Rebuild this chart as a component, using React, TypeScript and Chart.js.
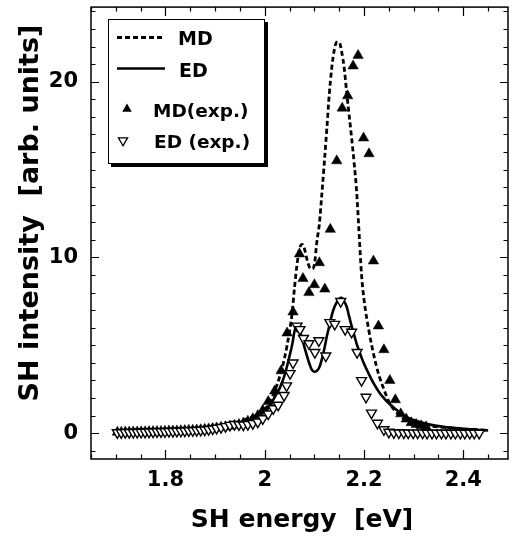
import React, { useEffect, useRef } from 'react';
import { Chart, registerables } from 'chart.js';

Chart.register(...registerables);

// ---------- data ----------
const theoryE = [1.70, 1.75, 1.80, 1.85, 1.90, 1.93, 1.95, 1.97, 1.99, 2.00, 2.01, 2.02, 2.03, 2.04, 2.05, 2.055, 2.06, 2.065, 2.07, 2.075, 2.08, 2.085, 2.09, 2.095, 2.10, 2.105, 2.11, 2.115, 2.12, 2.125, 2.13, 2.135, 2.14, 2.145, 2.15, 2.155, 2.16, 2.165, 2.17, 2.175, 2.18, 2.185, 2.19, 2.195, 2.20, 2.21, 2.22, 2.23, 2.24, 2.25, 2.26, 2.28, 2.30, 2.33, 2.36, 2.40, 2.45];
const mdTheory = [0.12, 0.15, 0.20, 0.27, 0.38, 0.52, 0.66, 0.88, 1.15, 1.35, 1.75, 2.4, 3.2, 4.3, 5.8, 6.8, 8.3, 9.6, 10.5, 10.75, 10.5, 9.9, 9.45, 9.35, 9.6, 10.9, 11.9, 13.6, 15.4, 17.3, 19.3, 20.8, 21.8, 22.25, 22.25, 21.7, 20.8, 19.4, 18.1, 16.8, 15.4, 13.8, 11.4, 9.0, 7.6, 5.8, 4.4, 3.3, 2.5, 1.8, 1.35, 0.82, 0.6, 0.42, 0.33, 0.24, 0.17];
const edTheory = [0.10, 0.13, 0.17, 0.23, 0.33, 0.45, 0.58, 0.78, 1.05, 1.2, 1.55, 2.05, 2.55, 3.3, 4.4, 5.0, 5.8, 6.2, 5.9, 5.4, 4.9, 4.4, 3.95, 3.6, 3.5, 3.55, 3.75, 4.2, 4.8, 5.5, 6.1, 6.7, 7.15, 7.45, 7.65, 7.7, 7.5, 7.2, 6.65, 6.1, 5.6, 5.1, 4.7, 4.3, 3.95, 3.35, 2.8, 2.35, 2.0, 1.7, 1.45, 1.0, 0.75, 0.5, 0.36, 0.25, 0.15];

const mdExpE = [1.703, 1.711, 1.719, 1.727, 1.735, 1.743, 1.751, 1.759, 1.767, 1.775, 1.783, 1.791, 1.799, 1.807, 1.815, 1.823, 1.831, 1.839, 1.847, 1.855, 1.863, 1.871, 1.879, 1.887, 1.895, 1.903, 1.912, 1.921, 1.930, 1.939, 1.948, 1.957, 1.966, 1.976, 1.986, 1.996, 2.007, 2.020, 2.033, 2.045, 2.057, 2.070, 2.077, 2.089, 2.100, 2.110, 2.121, 2.132, 2.145, 2.156, 2.167, 2.178, 2.188, 2.199, 2.210, 2.219, 2.229, 2.240, 2.252, 2.263, 2.274, 2.285, 2.295, 2.305, 2.315, 2.325];
const mdExpI = [0.05, 0.05, 0.06, 0.06, 0.07, 0.07, 0.08, 0.08, 0.09, 0.09, 0.10, 0.10, 0.11, 0.12, 0.12, 0.13, 0.14, 0.15, 0.16, 0.17, 0.18, 0.20, 0.22, 0.24, 0.27, 0.30, 0.33, 0.36, 0.40, 0.45, 0.50, 0.58, 0.68, 0.82, 1.0, 1.3, 1.8, 2.4, 3.55, 5.7, 6.9, 10.2, 8.8, 8.0, 8.45, 9.7, 8.2, 11.6, 15.5, 18.5, 19.2, 20.9, 21.5, 16.8, 15.9, 9.8, 6.1, 4.75, 3.0, 1.9, 1.1, 0.8, 0.6, 0.5, 0.42, 0.36];

const edExpE = [1.703, 1.711, 1.719, 1.727, 1.735, 1.743, 1.751, 1.759, 1.767, 1.775, 1.783, 1.791, 1.799, 1.807, 1.815, 1.823, 1.831, 1.839, 1.847, 1.855, 1.863, 1.871, 1.879, 1.887, 1.895, 1.903, 1.912, 1.921, 1.930, 1.939, 1.948, 1.957, 1.966, 1.976, 1.986, 1.996, 2.007, 2.017, 2.027, 2.039, 2.044, 2.051, 2.057, 2.065, 2.071, 2.078, 2.089, 2.101, 2.109, 2.123, 2.131, 2.141, 2.153, 2.162, 2.175, 2.186, 2.195, 2.204, 2.215, 2.227, 2.240, 2.250, 2.260, 2.270, 2.280, 2.289, 2.299, 2.308, 2.318, 2.327, 2.337, 2.346, 2.356, 2.365, 2.375, 2.384, 2.394, 2.403, 2.413, 2.422, 2.432];
const edExpI = [0.03, 0.03, 0.04, 0.04, 0.05, 0.05, 0.06, 0.06, 0.07, 0.07, 0.08, 0.08, 0.09, 0.10, 0.10, 0.11, 0.12, 0.13, 0.14, 0.15, 0.16, 0.17, 0.19, 0.21, 0.25, 0.28, 0.33, 0.38, 0.45, 0.50, 0.48, 0.47, 0.50, 0.55, 0.64, 0.83, 1.1, 1.4, 1.6, 2.15, 2.7, 3.4, 4.0, 6.1, 5.9, 5.4, 5.1, 4.6, 5.27, 4.4, 6.3, 6.2, 7.5, 5.9, 5.75, 4.6, 3.0, 2.05, 1.15, 0.57, 0.2, 0.06, 0.03, 0.02, 0.02, 0.01, 0.01, 0.01, 0.01, 0.0, 0.0, 0.0, 0.0, 0.0, 0.0, 0.0, 0.0, 0.0, 0.0, 0.0, 0.0];

const xMajorTicks = [1.8, 2.0, 2.2, 2.4];
const xTickLabels = ['1.8', '2', '2.2', '2.4'];
const yMajorTicks = [0, 10, 20];
const yTickLabels = ['0', '10', '20'];
const xMinorStep = 0.05;
const yMinorStep = 1;
const xAxisTitle = 'SH energy  [eV]';
const yAxisTitle = 'SH intensity  [arb. units]';
const legendLabels = ['MD', 'ED', 'MD(exp.)', 'ED (exp.)'];

// ---------- layout ----------
const W = 516;
const H = 542;
const AREA = { left: 91, right: 508, top: 5, bottom: 459 };
const X_MIN = 1.65, X_MAX = 2.49, Y_MIN = -1.47, Y_MAX = 24.25;
const FONT = "'DejaVu Sans', sans-serif";

function triangle(ctx: CanvasRenderingContext2D, x: number, y: number, r: number, down: boolean) {
  const s = down ? -1 : 1;
  ctx.beginPath();
  ctx.moveTo(x, y - s * r);
  ctx.lineTo(x + r * Math.sin((2 * Math.PI) / 3), y + s * r * 0.5);
  ctx.lineTo(x - r * Math.sin((2 * Math.PI) / 3), y + s * r * 0.5);
  ctx.closePath();
}

const framePlugin = {
  id: 'frameTicks',
  afterDatasetsDraw(chart: any) {
    const ctx: CanvasRenderingContext2D = chart.ctx;
    const { left, right, top, bottom } = chart.chartArea;
    const xs = chart.scales.x;
    const ys = chart.scales.y;
    ctx.save();
    ctx.strokeStyle = '#000';
    ctx.lineWidth = 1.5;
    ctx.strokeRect(left, top, right - left, bottom - top);
    ctx.lineWidth = 1.2;
    const nx0 = Math.ceil(X_MIN / xMinorStep - 1e-6);
    const nx1 = Math.floor(X_MAX / xMinorStep + 1e-6);
    for (let i = nx0; i <= nx1; i++) {
      const v = i * xMinorStep;
      const major = xMajorTicks.some((m) => Math.abs(m - v) < 1e-6);
      const len = major ? 9 : 4.5;
      const px = Math.round(xs.getPixelForValue(v)) + 0.5;
      ctx.beginPath();
      ctx.moveTo(px, bottom);
      ctx.lineTo(px, bottom - len);
      ctx.moveTo(px, top);
      ctx.lineTo(px, top + len);
      ctx.stroke();
    }
    const ny0 = Math.ceil(Y_MIN / yMinorStep - 1e-6);
    const ny1 = Math.floor(Y_MAX / yMinorStep + 1e-6);
    for (let i = ny0; i <= ny1; i++) {
      const v = i * yMinorStep;
      const major = yMajorTicks.some((m) => Math.abs(m - v) < 1e-6);
      const len = major ? 8 : 4.5;
      const py = Math.round(ys.getPixelForValue(v)) + 0.5;
      ctx.beginPath();
      ctx.moveTo(left, py);
      ctx.lineTo(left + len, py);
      ctx.moveTo(right, py);
      ctx.lineTo(right - len, py);
      ctx.stroke();
    }
    // axis titles
    ctx.fillStyle = '#000';
    ctx.font = `bold 25px ${FONT}`;
    ctx.textAlign = 'center';
    ctx.textBaseline = 'alphabetic';
    ctx.fillText(xAxisTitle, 302, 527);
    ctx.save();
    ctx.translate(31, 213);
    ctx.rotate(-Math.PI / 2);
    ctx.font = `bold 27px ${FONT}`;
    ctx.textBaseline = 'middle';
    ctx.fillText(yAxisTitle, 0, 0);
    ctx.restore();

    // legend
    const bx = 108, by = 19, bw = 157, bh = 145;
    ctx.fillStyle = '#000';
    ctx.fillRect(bx + 3, by + 3, bw, bh);
    ctx.fillStyle = '#fff';
    ctx.fillRect(bx, by, bw, bh);
    ctx.lineWidth = 1;
    ctx.strokeStyle = '#000';
    ctx.strokeRect(bx + 0.5, by + 0.5, bw - 1, bh - 1);

    ctx.lineWidth = 2.8;
    ctx.setLineDash([5, 3]);
    ctx.beginPath();
    ctx.moveTo(117, 37.5);
    ctx.lineTo(165, 37.5);
    ctx.stroke();
    ctx.setLineDash([]);
    ctx.lineWidth = 2.5;
    ctx.beginPath();
    ctx.moveTo(117, 68.5);
    ctx.lineTo(165, 68.5);
    ctx.stroke();

    ctx.fillStyle = '#000';
    triangle(ctx, 127, 109, 5.5, false);
    ctx.fill();
    ctx.lineWidth = 1.3;
    triangle(ctx, 123, 140.5, 5.3, true);
    ctx.fillStyle = '#fff';
    ctx.fill();
    ctx.stroke();

    ctx.fillStyle = '#000';
    ctx.font = `bold 19px ${FONT}`;
    ctx.textAlign = 'left';
    ctx.textBaseline = 'alphabetic';
    ctx.fillText(legendLabels[0], 178, 45);
    ctx.fillText(legendLabels[1], 179, 76.5);
    ctx.font = `bold 18.5px ${FONT}`;
    ctx.fillText(legendLabels[2], 153, 116.5);
    ctx.fillText(legendLabels[3], 154, 148);
    ctx.restore();
  },
};

export default function App() {
  const ref = useRef<HTMLCanvasElement | null>(null);
  useEffect(() => {
    if (!ref.current) return;
    const chart = new Chart(ref.current, {
      type: 'scatter',
      data: {
        datasets: [
          {
            label: legendLabels[0],
            type: 'line',
            data: theoryE.map((x, i) => ({ x, y: mdTheory[i] })),
            borderColor: '#000',
            borderWidth: 2.8,
            borderDash: [5, 3],
            pointRadius: 0,
            fill: false,
            cubicInterpolationMode: 'monotone',
            order: 4,
          } as any,
          {
            label: legendLabels[1],
            type: 'line',
            data: theoryE.map((x, i) => ({ x, y: edTheory[i] })),
            borderColor: '#000',
            borderWidth: 2.6,
            pointRadius: 0,
            fill: false,
            cubicInterpolationMode: 'monotone',
            order: 3,
          } as any,
          {
            label: legendLabels[2],
            data: mdExpE.map((x, i) => ({ x, y: mdExpI[i] })),
            pointStyle: 'triangle',
            pointRadius: 6,
            backgroundColor: '#000',
            borderColor: '#000',
            borderWidth: 0.5,
            order: 2,
          } as any,
          {
            label: legendLabels[3],
            data: edExpE.map((x, i) => ({ x, y: edExpI[i] })),
            pointStyle: 'triangle',
            pointRotation: 180,
            pointRadius: 5.7,
            backgroundColor: '#fff',
            borderColor: '#000',
            borderWidth: 1.4,
            order: 1,
          } as any,
        ],
      },
      options: {
        responsive: false,
        animation: false,
        devicePixelRatio: 1,
        layout: { padding: { left: 0, top: AREA.top, right: W - AREA.right, bottom: 0 } },
        plugins: { legend: { display: false }, tooltip: { enabled: false }, title: { display: false } },
        scales: {
          x: {
            type: 'linear',
            position: 'bottom',
            min: X_MIN,
            max: X_MAX,
            grid: { display: false, drawTicks: false },
            border: { display: false },
            ticks: {
              color: '#000',
              padding: 9,
              maxRotation: 0,
              font: { family: FONT, weight: 'bold', size: 21 },
              callback: (v: any) => {
                const idx = xMajorTicks.findIndex((m) => Math.abs(m - Number(v)) < 1e-6);
                return idx >= 0 ? xTickLabels[idx] : '';
              },
            },
            afterBuildTicks: (s: any) => {
              s.ticks = xMajorTicks.map((value) => ({ value }));
            },
            afterFit: (s: any) => {
              s.height = H - AREA.bottom;
              s.paddingLeft = 0;
              s.paddingRight = 0;
              s.paddingTop = 0;
              s.paddingBottom = 0;
            },
          },
          y: {
            type: 'linear',
            position: 'left',
            min: Y_MIN,
            max: Y_MAX,
            grid: { display: false, drawTicks: false },
            border: { display: false },
            ticks: {
              color: '#000',
              padding: 13,
              font: { family: FONT, weight: 'bold', size: 21 },
              callback: (v: any) => {
                const idx = yMajorTicks.findIndex((m) => Math.abs(m - Number(v)) < 1e-6);
                return idx >= 0 ? yTickLabels[idx] : '';
              },
            },
            afterBuildTicks: (s: any) => {
              s.ticks = yMajorTicks.map((value) => ({ value }));
            },
            afterFit: (s: any) => {
              s.width = AREA.left;
              s.paddingLeft = 0;
              s.paddingRight = 0;
              s.paddingTop = 0;
              s.paddingBottom = 0;
            },
          },
        },
      } as any,
      plugins: [framePlugin],
    });
    return () => chart.destroy();
  }, []);
  return (
    <div style={{ position: 'fixed', left: 0, top: 0, width: W, height: H, background: '#fff' }}>
      <canvas ref={ref} width={W} height={H} style={{ width: W, height: H, display: 'block' }} />
    </div>
  );
}
